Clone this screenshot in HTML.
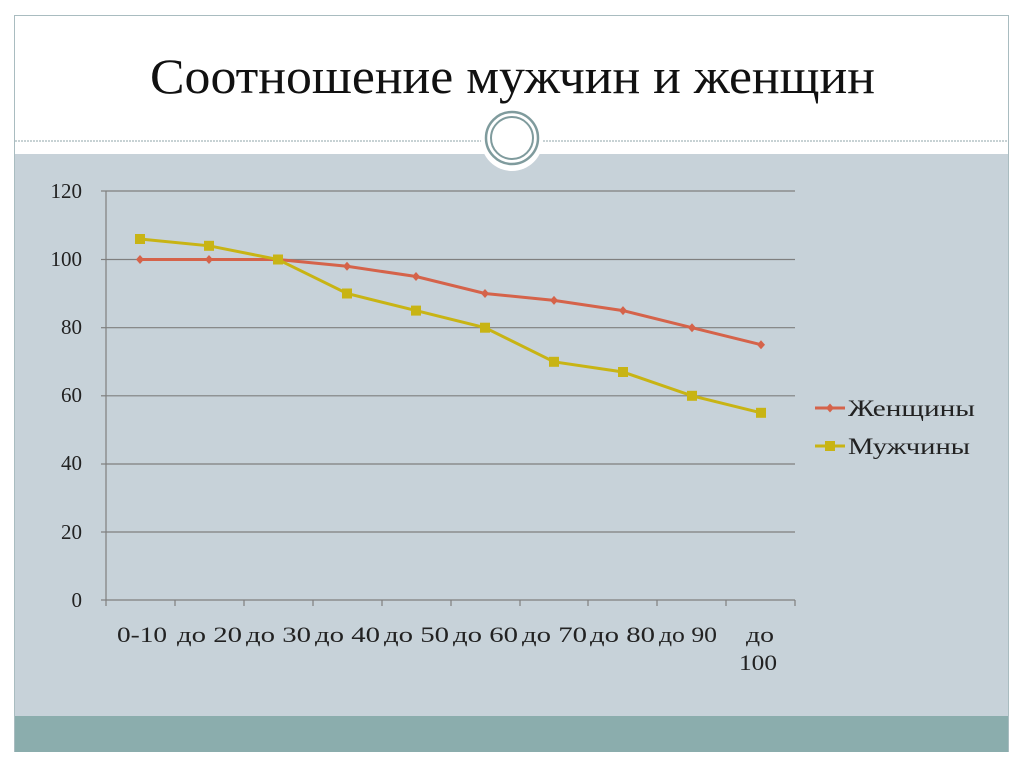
<!DOCTYPE html>
<html><head><meta charset="utf-8"><style>
body{margin:0;width:1024px;height:767px;background:#fff;overflow:hidden;font-family:"Liberation Serif",serif}
</style></head><body>
<svg width="1024" height="767" xmlns="http://www.w3.org/2000/svg" font-family="Liberation Serif, serif">
<rect x="14.5" y="15.5" width="994" height="736" fill="#fff" stroke="#a9bcc0"/>
<rect x="15" y="154" width="993" height="562" fill="#c7d2d9"/>
<rect x="15" y="716" width="993" height="36" fill="#8badad"/>
<line x1="15" y1="141" x2="1008" y2="141" stroke="#8fa5aa" stroke-dasharray="2,1"/>
<circle cx="512" cy="140" r="31" fill="#fff"/>
<circle cx="512" cy="138" r="26" fill="none" stroke="#7f9b9d" stroke-width="2.5"/>
<circle cx="512" cy="138" r="21" fill="none" stroke="#7f9b9d" stroke-width="2"/>
<text x="150" y="93" font-size="50" textLength="725" lengthAdjust="spacingAndGlyphs" fill="#111">Соотношение мужчин и женщин</text>
<g stroke="#7f7f7f" stroke-width="1.2">
<line x1="106" y1="191" x2="795" y2="191"/><line x1="106" y1="259.5" x2="795" y2="259.5"/>
<line x1="106" y1="327.7" x2="795" y2="327.7"/><line x1="106" y1="395.8" x2="795" y2="395.8"/>
<line x1="106" y1="464" x2="795" y2="464"/><line x1="106" y1="532" x2="795" y2="532"/>
<line x1="106" y1="600" x2="795" y2="600"/><line x1="106" y1="191" x2="106" y2="606"/>
<line x1="101" y1="191" x2="106" y2="191"/><line x1="101" y1="259.5" x2="106" y2="259.5"/><line x1="101" y1="327.7" x2="106" y2="327.7"/><line x1="101" y1="395.8" x2="106" y2="395.8"/><line x1="101" y1="464" x2="106" y2="464"/><line x1="101" y1="532" x2="106" y2="532"/><line x1="101" y1="600" x2="106" y2="600"/>
<path d="M175,600v6M244,600v6M313,600v6M382,600v6M451,600v6M520,600v6M588,600v6M657,600v6M726,600v6M795,600v6"/>
</g>
<g font-size="21" fill="#222" text-anchor="end">
<text x="82" y="198">120</text><text x="82" y="266">100</text><text x="82" y="334">80</text><text x="82" y="402">60</text><text x="82" y="470">40</text><text x="82" y="539">20</text><text x="82" y="607">0</text>
</g>
<g font-size="22" fill="#222">
<text x="117" y="642" textLength="50" lengthAdjust="spacingAndGlyphs">0-10</text>
<text x="177" y="642" textLength="65" lengthAdjust="spacingAndGlyphs">до 20</text>
<text x="246" y="642" textLength="65" lengthAdjust="spacingAndGlyphs">до 30</text>
<text x="315" y="642" textLength="65" lengthAdjust="spacingAndGlyphs">до 40</text>
<text x="384" y="642" textLength="65" lengthAdjust="spacingAndGlyphs">до 50</text>
<text x="453" y="642" textLength="65" lengthAdjust="spacingAndGlyphs">до 60</text>
<text x="522" y="642" textLength="65" lengthAdjust="spacingAndGlyphs">до 70</text>
<text x="590" y="642" textLength="65" lengthAdjust="spacingAndGlyphs">до 80</text>
<text x="659" y="642" textLength="58" lengthAdjust="spacingAndGlyphs">до 90</text>
<text x="746" y="642" textLength="28" lengthAdjust="spacingAndGlyphs">до</text>
<text x="739" y="670" textLength="38" lengthAdjust="spacingAndGlyphs">100</text>
</g>
<polyline fill="none" stroke="#d5634a" stroke-width="3" points="140,259.5 209,259.5 278,259.5 347,266.3 416,276.5 485,293.5 554,300.4 623,310.6 692,327.7 761,344.7"/>
<g fill="#d5634a">
<path d="M140,255l4,4.5l-4,4.5l-4,-4.5z"/><path d="M209,255l4,4.5l-4,4.5l-4,-4.5z"/><path d="M278,255l4,4.5l-4,4.5l-4,-4.5z"/><path d="M347,261.8l4,4.5l-4,4.5l-4,-4.5z"/><path d="M416,272l4,4.5l-4,4.5l-4,-4.5z"/><path d="M485,289l4,4.5l-4,4.5l-4,-4.5z"/><path d="M554,295.9l4,4.5l-4,4.5l-4,-4.5z"/><path d="M623,306.1l4,4.5l-4,4.5l-4,-4.5z"/><path d="M692,323.2l4,4.5l-4,4.5l-4,-4.5z"/><path d="M761,340.2l4,4.5l-4,4.5l-4,-4.5z"/>
</g>
<polyline fill="none" stroke="#c8b414" stroke-width="3" points="140,239 209,245.8 278,259.5 347,293.5 416,310.6 485,327.7 554,361.8 623,372 692,395.8 761,412.8"/>
<g fill="#c8b414">
<rect x="135" y="234" width="10" height="10"/><rect x="204" y="240.8" width="10" height="10"/><rect x="273" y="254.5" width="10" height="10"/><rect x="342" y="288.5" width="10" height="10"/><rect x="411" y="305.6" width="10" height="10"/><rect x="480" y="322.7" width="10" height="10"/><rect x="549" y="356.8" width="10" height="10"/><rect x="618" y="367" width="10" height="10"/><rect x="687" y="390.8" width="10" height="10"/><rect x="756" y="407.8" width="10" height="10"/>
</g>
<line x1="815" y1="408" x2="845" y2="408" stroke="#d5634a" stroke-width="3"/>
<path d="M830,403.5l4,4.5l-4,4.5l-4,-4.5z" fill="#d5634a"/>
<line x1="815" y1="446" x2="845" y2="446" stroke="#c8b414" stroke-width="3"/>
<rect x="825" y="441" width="10" height="10" fill="#c8b414"/>
<text x="848" y="416" font-size="23" textLength="127" lengthAdjust="spacingAndGlyphs" fill="#222">Женщины</text>
<text x="848" y="454" font-size="23" textLength="122" lengthAdjust="spacingAndGlyphs" fill="#222">Мужчины</text>
</svg>
</body></html>
